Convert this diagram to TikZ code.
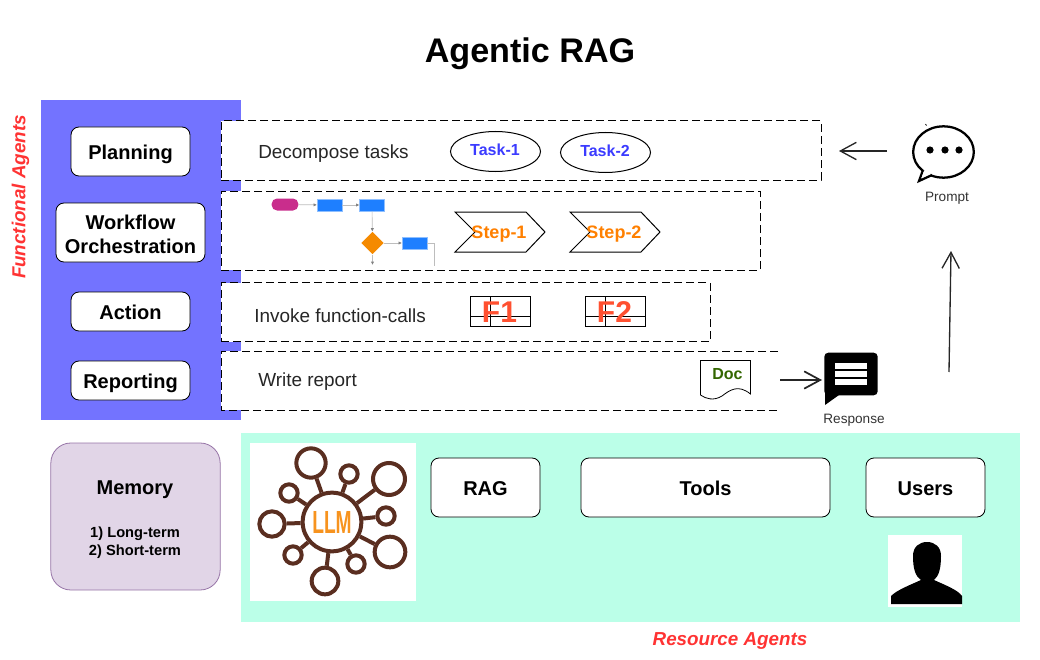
\documentclass[tikz,border=0pt]{standalone}
\usepackage{fontspec}
\setmainfont{Liberation Sans}
\usetikzlibrary{arrows.meta,shapes.geometric}

\definecolor{panelblue}{HTML}{7373FF}
\definecolor{panelgreen}{HTML}{BBFFE8}
\definecolor{memfill}{HTML}{E1D5E7}
\definecolor{memline}{HTML}{9673A6}
\definecolor{agentred}{HTML}{FF3333}
\definecolor{taskblue}{HTML}{3B3BFF}
\definecolor{steporange}{HTML}{FF8000}
\definecolor{fred}{HTML}{FF5030}
\definecolor{docgreen}{HTML}{336600}
\definecolor{logobrown}{HTML}{5A2E20}
\definecolor{logoorange}{HTML}{F7931E}
\definecolor{flowblue}{HTML}{1E7FFF}
\definecolor{flowpink}{HTML}{C92D8C}
\definecolor{floworange}{HTML}{F58A00}
\definecolor{flowgray}{HTML}{BDBDBD}

\tikzset{
  roundbox/.style={draw,fill=white,rounded corners=6pt,line width=0.6pt,align=center,font=\bfseries\fontsize{15}{18}\selectfont,inner sep=0pt},
  lowtext/.style={text height=15.5pt,text depth=3.2pt},
  flattext/.style={text height=12.5pt,text depth=0pt},
  dashbox/.style={draw,fill=white,line width=0.75pt,dash pattern=on 6pt off 3pt,inner sep=0pt},
  plaintext/.style={inner sep=0pt,font=\fontsize{14.2}{17}\selectfont,text=black!85},
  agentlabel/.style={inner sep=0pt,text=agentred,font=\bfseries\itshape\fontsize{14.1}{17}\selectfont},
  taskshape/.style={draw,ellipse,line width=0.75pt,minimum width=67.5pt,minimum height=30pt,inner sep=0pt},
  tasktext/.style={inner sep=0pt,text=taskblue,font=\bfseries\fontsize{12}{14}\selectfont},
  steptext/.style={inner sep=0pt,text=steporange,font=\bfseries\fontsize{13.5}{16}\selectfont},
  ftext/.style={inner sep=0pt,text=fred,font=\bfseries\fontsize{22.5}{26}\selectfont},
  flowbox/.style={fill=flowblue,draw=flowblue!50,line width=0.4pt,minimum width=18.5pt,minimum height=9pt,inner sep=0pt},
  flowline/.style={flowgray,line width=0.5pt,-{Latex[length=2.5pt,width=2.5pt,gray]}},
  bigarrow/.style={line width=1pt,black!85,-{Straight Barb[length=12pt,width=13pt]}},
  iconlabel/.style={inner sep=0pt,text=black!80,font=\fontsize{10.2}{12}\selectfont},
  logoring/.style={draw=logobrown,circle,line width=3pt,fill=white,inner sep=0pt},
  logospoke/.style={draw=logobrown,line width=3pt},
}

\begin{document}
\begin{tikzpicture}[x=0.75pt,y=0.75pt,yscale=-1,xscale=1]
\useasboundingbox (0,0) rectangle (1040,660);

% Title
\node (title) [inner sep=0pt,font=\bfseries\fontsize{25.6}{30}\selectfont] at (530,53.5) {Agentic RAG};

% Panels
\fill [panelblue] (41,100) rectangle (241,420);
\fill [panelgreen] (241,433) rectangle (1020,622);

% Dashed rows
\node (planrow) [dashbox,minimum width=450pt,minimum height=44.25pt] at (521,150.5) {};
\node (flowrow) [dashbox,minimum width=404.25pt,minimum height=59.25pt] at (490.5,230.5) {};
\node (actionrow) [dashbox,minimum width=366.75pt,minimum height=44.25pt] at (465.5,312) {};
\fill [white] (221,351) rectangle (778,410);
\draw [line width=0.75pt,dash pattern=on 6pt off 3pt] (778,351) -- (221,351) -- (221,410) -- (778,410);

% Functional agents
\node (planning) [roundbox,lowtext,minimum width=89.25pt,minimum height=36.75pt] at (130.5,151.5) {Planning};
\node (workflow) [roundbox,minimum width=111.75pt,minimum height=44.25pt] at (130.5,232.5) {\rule{0pt}{13pt}Workflow\\Orchestration};
\node (action) [roundbox,flattext,minimum width=89.25pt,minimum height=29.25pt] at (130.5,311.5) {Action};
\node (reporting) [roundbox,lowtext,minimum width=89.25pt,minimum height=29.25pt] at (130.5,380.5) {Reporting};
\node (functional) [agentlabel,rotate=90] at (20.5,197) {Functional Agents};

% Row texts
\node (decompose) [plaintext,anchor=west] at (258,154) {Decompose tasks};
\node (invoke) [plaintext,anchor=west] at (254,316) {Invoke function-calls};
\node (write) [plaintext,anchor=west] at (258,382) {Write report};

% Tasks
\node (task1) [taskshape] at (495.5,151.5) {};
\node (task2) [taskshape] at (605.5,152.5) {};
\node (task1text) [tasktext] at (495,150) {Task-1};
\node (task2text) [tasktext] at (605,151) {Task-2};

% Flow sketch
\node (pill) [fill=flowpink,rounded corners=4pt,minimum width=20pt,minimum height=9pt,inner sep=0pt] at (285,204.5) {};
\node (flow1) [flowbox] at (329.5,205) {};
\node (flow2) [flowbox] at (372,205) {};
\node (flowdia) [diamond,fill=floworange,minimum width=17pt,minimum height=17pt,inner sep=0pt] at (372.5,243) {};
\node (flow3) [flowbox] at (414.5,243) {};
\coordinate (flowdown) at (372.5,265);
\coordinate (flowend) at (434,266);
\draw [flowline] (pill) -- (flow1);
\draw [flowline] (flow1) -- (flow2);
\draw [flowline] (flow2) -- (flowdia);
\draw [flowline] (flowdia) -- (flow3);
\draw [flowline] (flowdia) -- (flowdown);
\draw [flowgray,line width=0.5pt] (flow3) -| (flowend);

% Steps
\foreach \stepx/\stepn in {0/1,115/2}{
  \draw [line width=0.75pt] (455+\stepx,212) -- (526+\stepx,212) -- (545+\stepx,232) -- (526+\stepx,252) -- (455+\stepx,252) -- (475+\stepx,232) -- cycle;
  \node (step\stepn) [steptext] at (499+\stepx,234.5) {Step-\stepn};
}

% Function tables
\foreach \fx/\fn in {0/1,115/2}{
  \draw [line width=0.75pt] (470.5+\fx,296.5) rectangle (530.5+\fx,326.5);
  \draw [line width=0.75pt] (490.5+\fx,296.5) -- (490.5+\fx,326.5);
  \draw [line width=0.75pt] (470.5+\fx,316.5) -- (530.5+\fx,316.5);
  \node (func\fn) [ftext] at (499.5+\fx,312) {F\fn};
}

% Doc
\draw [line width=0.6pt,fill=white] (700.5,360.5) -- (750.5,360.5) -- (750.5,394) .. controls (738,384) and (730,390) .. (722,396) .. controls (714,401) and (706,399) .. (700.5,395) -- cycle;
\node (doc) [inner sep=0pt,text=docgreen,font=\bfseries\fontsize{12}{14}\selectfont] at (727.5,374) {Doc};

% Response icon
\node (response) [fill=black,rounded corners=3pt,minimum width=40pt,minimum height=32pt,inner sep=0pt] at (851,374) {};
\fill (825,390) -- (839,395) -- (825,405) -- cycle;
\foreach \bary in {363,371,379}{
  \fill [white] (835,\bary) rectangle (867,\bary+6);
}
\node (responselabel) [iconlabel] at (854,420) {Response};

% Prompt icon
\node (prompt) [draw,ellipse,line width=1.7pt,minimum width=45.5pt,minimum height=38.5pt,inner sep=0pt,fill=white] at (943.5,152) {};
\draw [line width=1.7pt,fill=white,line join=miter] (923,170) -- (919,181) -- (932,175);
\fill [white] (925,169) -- (921.5,178) -- (931,173.5) -- cycle;
\foreach \dotx in {930,945,959}{
  \fill (\dotx,150) circle [radius=2.7pt];
}
\draw [line width=0.6pt] (925.5,124) -- (926.5,125.5);
\node (promptlabel) [iconlabel] at (947,198.5) {Prompt};

% Arrows
\coordinate (promptout) at (887,151);
\coordinate (planin) at (839,151);
\coordinate (docout) at (780,380);
\coordinate (respin) at (822,380);
\coordinate (respout) at (949,372);
\coordinate (promptin) at (951,251);
\draw [bigarrow] (promptout) -- (planin);
\draw [bigarrow,line width=1.3pt] (docout) -- (respin);
\draw [bigarrow] (respout) -- (promptin);

% Memory
\node (memory) [draw=memline,fill=memfill,rounded corners=15pt,line width=0.6pt,minimum width=127pt,minimum height=110.25pt,inner sep=0pt] at (135.5,516.5) {};
\node (memorytitle) [inner sep=0pt,font=\bfseries\fontsize{15}{18}\selectfont] at (135,490) {Memory};
\node (memorytext) [inner sep=0pt,align=center,font=\bfseries\fontsize{11}{13.5}\selectfont] at (135,542.5) {1) Long-term\\2) Short-term};

% Resources
\node (rag) [roundbox,flattext,minimum width=81.75pt,minimum height=44.25pt] at (485.5,487.5) {RAG};
\node (tools) [roundbox,flattext,minimum width=186.75pt,minimum height=44.25pt] at (705.5,487.5) {Tools};
\node (users) [roundbox,flattext,minimum width=89.25pt,minimum height=44.25pt] at (925.5,487.5) {Users};
\node (resource) [agentlabel] at (730,641) {Resource Agents};

% LLM logo
\fill [white] (250,443) rectangle (416,601);
\node (hub) [logoring,minimum size=44pt] at (332,522) {};
\foreach \ringname/\ringx/\ringy/\ringr in {a/311/463/22,b/349/474/13,c/389/479/24,d/289/493/13,e/386/516/13,f/272/524/19,g/390/552/23,h/293/555/13,i/356/564/13,j/325/581/20}{
  \node (ring\ringname) [logoring,minimum size=\ringr pt] at (\ringx,\ringy) {};
  \draw [logospoke] (hub) -- (ring\ringname);
}
\node (llmtext) [inner sep=0pt,text=logoorange,font=\bfseries\fontsize{24}{28}\selectfont] at (332,522) {\scalebox{0.6}[1]{LLM}};

% User picture
\fill [white] (888,535) rectangle (962,607);
\fill (891,604) -- (891,596) .. controls (897,590) and (910,585) .. (921,580) .. controls (915,576) and (913,568) .. (913,556) .. controls (913,547) and (919,542) .. (927,542) .. controls (935,542) and (941,547) .. (941,556) .. controls (941,568) and (939,576) .. (934,580) .. controls (945,585) and (958,590) .. (962,596) -- (962,604) -- cycle;

\end{tikzpicture}
\end{document}
